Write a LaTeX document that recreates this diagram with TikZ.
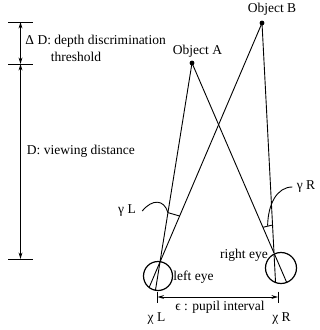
\documentclass[tikz,border=0pt]{standalone}
\usepackage{fontspec}
\setmainfont{Liberation Serif}
\usetikzlibrary{arrows.meta,calc}
\begin{document}
\begin{tikzpicture}[x=1pt,y=-1pt,line width=0.9pt,
  lbl/.style={font=\fontsize{13.5}{15}\selectfont,inner sep=0pt},
  dimarrow/.style={{Stealth[length=6.5pt,width=3.8pt]}-{Stealth[length=6.5pt,width=3.8pt]}},
  dot/.style={circle,fill,inner sep=0pt,minimum size=4.8pt},
  eyeline/.style={line width=1.2pt}]
\useasboundingbox (0,0) rectangle (320,330);
% objects
\node[dot] (A) at (192,63) {};
\node[dot] (B) at (262,23) {};
\node[lbl] (Alab) at (197.5,51.5) {Object A};
\node[lbl] (Blab) at (272,9.5) {Object B};
% eyes
\coordinate (eL) at (160,262);
\coordinate (eR) at (274,253);
\coordinate (cL) at (158,276);
\coordinate (cR) at (281,268);
\draw[eyeline] (cL) circle[radius=14.5];
\draw[eyeline] (cR) circle[radius=15.5];
% sight lines
\draw (A.center) -- (eL);
\draw (B.center) -- (eL);
\draw (A.center) -- (eR);
\draw (B.center) -- (eR);
\begin{scope}
  \clip (cL) circle[radius=14.5];
  \draw (eL) -- ($(eL)!-40pt!(A.center)$);
  \draw (eL) -- ($(eL)!-40pt!(B.center)$);
\end{scope}
\begin{scope}
  \clip (cR) circle[radius=15.5];
  \draw (eR) -- ($(eR)!-40pt!(A.center)$);
  \draw (eR) -- ($(eR)!-40pt!(B.center)$);
\end{scope}
% angle arcs
\coordinate (pL1) at ($(eL)!50pt!(A.center)$);
\coordinate (pL2) at ($(eL)!50pt!(B.center)$);
\coordinate (qL) at ($(eL)!50.6pt!($(pL1)!0.5!(pL2)$)$);
\draw (pL1) .. controls (qL) .. (pL2);
\coordinate (pR1) at ($(eR)!28pt!(B.center)$);
\coordinate (pR2) at ($(eR)!28pt!(A.center)$);
\coordinate (qR) at ($(eR)!28.4pt!($(pR1)!0.5!(pR2)$)$);
\coordinate (mR) at ($(eR)!28pt!($(pR1)!0.5!(pR2)$)$);
\draw (pR1) .. controls (qR) .. (pR2);
% angle labels and leaders
\node[lbl] (gL) at (127,211) {γ L};
\node[lbl] (gR) at (306,187) {γ R};
\draw ([xshift=6pt]gL.east) .. controls (152,199) and (164,199) .. (pL1);
\draw ([xshift=-4pt]gR.west) .. controls (277,187) and (268,204) .. (mR);
% left dimension
\coordinate (t1) at (20.5,22);
\coordinate (t2) at (20.5,64);
\coordinate (t3) at (20.5,259);
\draw ([xshift=-12.5pt]t1) -- ([xshift=12.5pt]t1);
\draw ([xshift=-12.5pt]t2) -- ([xshift=12.5pt]t2);
\draw ([xshift=-12.5pt]t3) -- ([xshift=12.5pt]t3);
\draw[dimarrow] (t1) -- (t2);
\draw[dimarrow] (t2) -- (t3);
\node[lbl,anchor=west] (dd) at (25,41.5) {Δ D: depth discrimination};
\node[lbl,anchor=west] (th) at (50.5,56.5) {threshold};
\node[lbl,anchor=west] (vd) at (26.5,151.5) {D: viewing distance};
% eye labels
\node[lbl,anchor=west] (le) at (173,277) {left eye};
\node[lbl] (re) at (244,255) {right eye};
% pupil interval
\coordinate (tL) at (157.5,297);
\coordinate (tR) at (278,297);
\draw ([yshift=5.5pt]tL) -- ([yshift=-5.5pt]tL);
\draw ([yshift=5.5pt]tR) -- ([yshift=-5.5pt]tR);
\draw[dimarrow] (tL) -- (tR);
\node[lbl] (pi) at (220,307) {ϵ : pupil interval};
\node[lbl] (xL) at (156.5,319) {χ L};
\node[lbl] (xR) at (281.5,319) {χ R};
\end{tikzpicture}
\end{document}
